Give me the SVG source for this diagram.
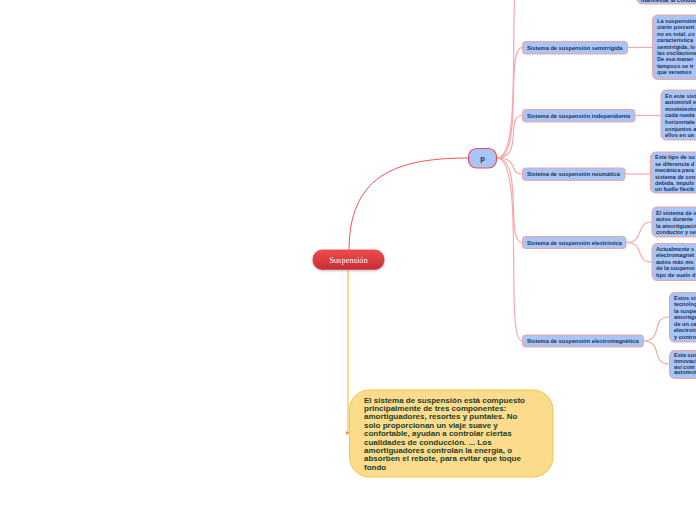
<svg xmlns="http://www.w3.org/2000/svg" width="696" height="520" viewBox="0 0 696 520">
<defs>
<linearGradient id="rg" x1="0" y1="0" x2="0" y2="1"><stop offset="0" stop-color="#f04a4d"/><stop offset="1" stop-color="#c42f33"/></linearGradient>
<filter id="sh" x="-10%" y="-20%" width="120%" height="150%"><feDropShadow dx="0" dy="1" stdDeviation="0.8" flood-color="#000" flood-opacity="0.25"/></filter>
</defs>
<style>
.n{fill:#a8c5f6;stroke:#f3a1a3;stroke-width:1}
.b{fill:#a8c5f6;stroke:#f3a1a3;stroke-width:1}
.nt{font-family:"Liberation Sans",Arial,sans-serif;font-size:5.7px;font-weight:bold;fill:#233357}
.bt{font-family:"Liberation Sans",Arial,sans-serif;font-size:5.6px;font-weight:bold;fill:#233357}
.c{fill:none;stroke:#f7a8a9;stroke-width:1.2}
.yt{font-family:"Liberation Sans",Arial,sans-serif;font-size:8px;font-weight:bold;fill:#173d2b}
</style>
<rect width="696" height="520" fill="#ffffff"/>
<g id="connectors">
<path d="M349,251 C349,178 392,158 468,158" fill="none" stroke="#ee5656" stroke-width="1"/>
<path d="M348,269 L348,433 L350,433" fill="none" stroke="#f6c445" stroke-width="1.2"/>
<path d="M346,431 L350,433 L346,435 Z" fill="#f0a030"/>
<path class="c" d="M497,158 C526,158 504,-30 522,-30"/>
<path class="c" d="M497,158 C524,158 505,47.5 522,47.5"/>
<path class="c" d="M497,158 C524,158 505,115.5 522,115.5"/>
<path class="c" d="M497,158 C520,158 508,174 522,174"/>
<path class="c" d="M497,158 C524,158 505,242.5 522,242.5"/>
<path class="c" d="M497,158 C526,158 504,341 522,341"/>
<path class="c" d="M627,47.5 L652,47.5"/>
<path class="c" d="M635,115.5 L661,115.5"/>
<path class="c" d="M625,174 L650,174"/>
<path class="c" d="M626,242.5 C646,242.5 634,222 652,222"/>
<path class="c" d="M626,242.5 C646,242.5 634,262 652,262"/>
<path class="c" d="M643,341 C664,341 650,317 669,317"/>
<path class="c" d="M643,341 C664,341 650,364 669,364"/>
</g>
<g id="suspension" filter="url(#sh)">
<rect x="313" y="250" width="71" height="19.5" rx="9" fill="url(#rg)" stroke="#e04448" stroke-width="0.8"/>
<text x="348.5" y="262.8" text-anchor="middle" font-family="'Liberation Serif','Times New Roman',serif" font-size="8.5" fill="#ffffff">Suspensión</text>
</g>
<g id="p">
<rect x="468.5" y="148.5" width="28" height="19.5" rx="8" fill="#a8c5f6" stroke="#ea4f53" stroke-width="1.2"/>
<text x="482.5" y="161.2" text-anchor="middle" font-family="'Liberation Sans',Arial,sans-serif" font-size="7.5" font-weight="bold" fill="#1d3048">p</text>
</g>
<g id="box1">
<rect class="b" x="637" y="-40" width="70" height="44" rx="5"/>
<text class="bt" x="641" y="1.5">manifestar al conductor</text>
</g>
<g id="semirrigida">
<rect class="n" x="522.5" y="41.5" width="105" height="12.5" rx="3"/>
<text class="nt" x="527" y="49.7">Sistema de suspensión semirrígida</text>
</g>
<g id="semirrigida-text">
<rect class="b" x="652.5" y="15" width="50" height="64.5" rx="5"/>
<text class="bt"><tspan x="657" y="23">La suspensión</tspan><tspan x="657" y="29.4">cierto porcent</tspan><tspan x="657" y="35.8">no es total, co</tspan><tspan x="657" y="42.2">característica</tspan><tspan x="657" y="48.6">semirrígida, lo</tspan><tspan x="657" y="55">las oscilacione</tspan><tspan x="657" y="61.4">De esa maner</tspan><tspan x="657" y="67.8">tampoco se tr</tspan><tspan x="657" y="74.2">que veremos</tspan></text>
</g>
<g id="independiente">
<rect class="n" x="522.5" y="109.5" width="112.5" height="12.5" rx="3"/>
<text class="nt" x="527" y="117.7">Sistema de suspensión independiente</text>
</g>
<g id="independiente-text">
<rect class="b" x="661" y="90" width="45" height="50" rx="5"/>
<text class="bt"><tspan x="665" y="97.6">En este sist</tspan><tspan x="665" y="104.2">automóvil e</tspan><tspan x="665" y="110.8">movimiento</tspan><tspan x="665" y="117.4">cada rueda</tspan><tspan x="665" y="124">horizontale</tspan><tspan x="665" y="130.6">conjuntos a</tspan><tspan x="665" y="137.2">ellos en un</tspan></text>
</g>
<g id="neumatica">
<rect class="n" x="522.5" y="168" width="102.5" height="12.5" rx="3"/>
<text class="nt" x="527" y="176.2">Sistema de suspensión neumática</text>
</g>
<g id="neumatica-text">
<rect class="b" x="650.5" y="152" width="55" height="41" rx="5"/>
<text class="bt"><tspan x="655" y="159.3">Este tipo de su</tspan><tspan x="655" y="165.7">se diferencia d</tspan><tspan x="655" y="172.1">mecánica para</tspan><tspan x="655" y="178.5">sistema de con</tspan><tspan x="655" y="184.9">debida, impuls</tspan><tspan x="655" y="191.3">un fuelle flexib</tspan></text>
</g>
<g id="electronica">
<rect class="n" x="522.5" y="236.5" width="103.5" height="12" rx="3"/>
<text class="nt" x="527" y="244.6">Sistema de suspensión electrónica</text>
</g>
<g id="electronica-text1">
<rect class="b" x="652" y="207" width="54" height="30" rx="5"/>
<text class="bt"><tspan x="656" y="214.8">El sistema de s</tspan><tspan x="656" y="221.2">autos durante</tspan><tspan x="656" y="227.6">la amortiguació</tspan><tspan x="656" y="234">conductor y se</tspan></text>
</g>
<g id="electronica-text2">
<rect class="b" x="652" y="243.5" width="54" height="37" rx="5"/>
<text class="bt"><tspan x="656" y="251">Actualmente s</tspan><tspan x="656" y="257.4">electromagnét</tspan><tspan x="656" y="263.8">autos más mo</tspan><tspan x="656" y="270.2">de la suspensi</tspan><tspan x="656" y="276.6">tipo de suelo d</tspan></text>
</g>
<g id="electromagnetica">
<rect class="n" x="522.5" y="335" width="121" height="12" rx="3"/>
<text class="nt" x="527" y="343.1">Sistema de suspensión electromagnética</text>
</g>
<g id="electromagnetica-text1">
<rect class="b" x="669.5" y="292.5" width="40" height="49.5" rx="5"/>
<text class="bt"><tspan x="674" y="299.8">Estos sis</tspan><tspan x="674" y="306.3">tecnolog</tspan><tspan x="674" y="312.8">la suspe</tspan><tspan x="674" y="319.3">amortigu</tspan><tspan x="674" y="325.8">de un ca</tspan><tspan x="674" y="332.3">electroim</tspan><tspan x="674" y="338.8">y contro</tspan></text>
</g>
<g id="electromagnetica-text2">
<rect class="b" x="669.5" y="350.5" width="40" height="28" rx="5"/>
<text class="bt"><tspan x="674" y="357">Esta sus</tspan><tspan x="674" y="363">innovaci</tspan><tspan x="674" y="368.6">así com</tspan><tspan x="674" y="374.4">automot</tspan></text>
</g>
<g id="nota">
<rect x="349.5" y="390" width="203.5" height="87" rx="20" fill="#fddb8c" stroke="#f6c445" stroke-width="1"/>
<text class="yt"><tspan x="364" y="402.6">El sistema de suspensión está compuesto</tspan><tspan x="364" y="411">principalmente de tres componentes:</tspan><tspan x="364" y="419.4">amortiguadores, resortes y puntales. No</tspan><tspan x="364" y="427.8">solo proporcionan un viaje suave y</tspan><tspan x="364" y="436.2">confortable, ayudan a controlar ciertas</tspan><tspan x="364" y="444.6">cualidades de conducción. ... Los</tspan><tspan x="364" y="453">amortiguadores controlan la energía, o</tspan><tspan x="364" y="461.4">absorben el rebote, para evitar que toque</tspan><tspan x="364" y="469.8">fondo</tspan></text>
</g>
</svg>
